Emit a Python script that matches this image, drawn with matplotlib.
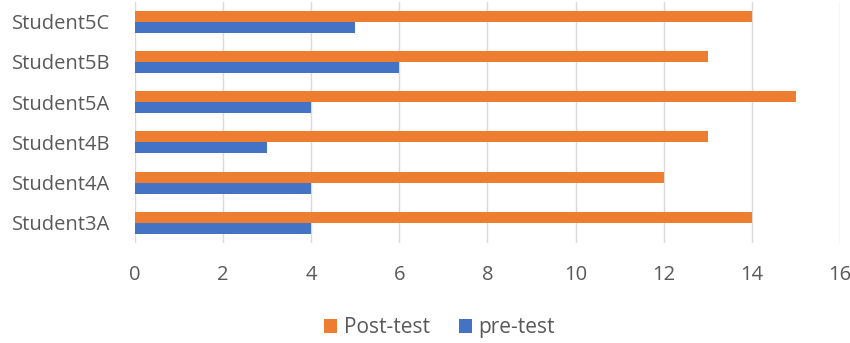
import matplotlib
matplotlib.use('Agg')
import matplotlib.pyplot as plt
import numpy as np

students  = ['Student3A', 'Student4A', 'Student4B', 'Student5A', 'Student5B', 'Student5C']
post_test = [14, 12, 13, 15, 13, 14]
pre_test  = [4, 4, 3, 4, 6, 5]
x_ticks   = [0, 2, 4, 6, 8, 10, 12, 14, 16]

ORANGE = '#ED7D31'
BLUE   = '#4472C4'
TEXT   = '#595959'

plt.rcParams['font.family'] = ['Open Sans', 'DejaVu Sans']

fig = plt.figure(figsize=(8.5, 3.43), dpi=100)
ax = fig.add_axes([0.159, 0.292, 0.829, 0.703])

y = np.arange(len(students))
h = 0.275
ax.barh(y + h / 2, post_test, height=h, color=ORANGE, label='Post-test', zorder=3)
ax.barh(y - h / 2, pre_test, height=h, color=BLUE, label='pre-test', zorder=3)

ax.set_xlim(0, 16)
ax.set_ylim(-0.5, len(students) - 0.5)
ax.set_xticks(x_ticks)
ax.set_yticks(y)
ax.set_yticklabels(students)
ax.grid(axis='x', color='#D9D9D9', linewidth=1, zorder=0)
for s in ax.spines.values():
    s.set_visible(False)
ax.tick_params(axis='both', length=0, labelsize=14.5, labelcolor=TEXT)
ax.tick_params(axis='x', pad=16)
ax.tick_params(axis='y', pad=18)

handles, labels = ax.get_legend_handles_labels()
fig.legend(handles, labels, loc='center', bbox_to_anchor=(0.517, 0.045), ncol=2,
           frameon=False, fontsize=15, labelcolor=TEXT, handlelength=0.65,
           handleheight=0.65, handletextpad=0.3, columnspacing=1.4)

fig.savefig('out.png', dpi=100, facecolor='white')
